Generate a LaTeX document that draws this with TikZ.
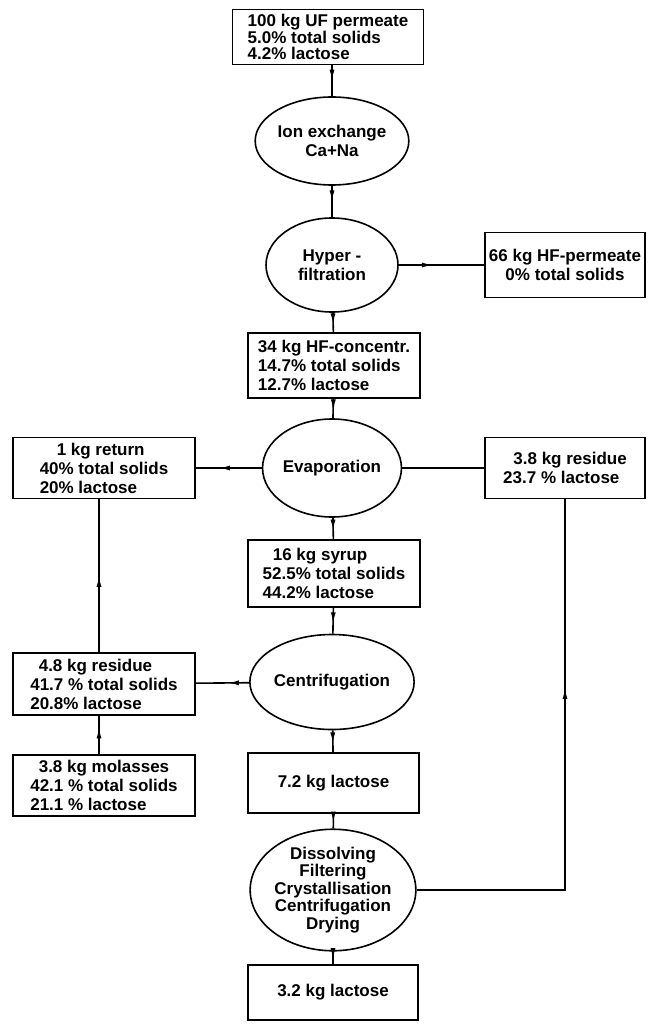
\documentclass[tikz,border=0pt]{standalone}
\usepackage{fontspec}
\setmainfont{Liberation Sans}
\usetikzlibrary{shapes.geometric,arrows.meta,decorations.markings}

\begin{document}
\begin{tikzpicture}[x=1pt, y=-1pt, line width=1.6pt,
  font=\fontsize{17}{19}\selectfont\bfseries,
  box/.style={draw, rectangle, inner sep=2pt, align=left},
  proc/.style={draw, ellipse, inner sep=0pt, align=center},
  flow/.style={decoration={markings, mark=at position #1 with {\arrow{Latex[length=11pt,width=5pt]}}}, postaction={decorate}}]
\useasboundingbox (0,0) rectangle (649,1024);
% main line
\node[box, minimum width=191pt, minimum height=55pt, font=\fontsize{17}{16.5}\selectfont\bfseries] (uf) at (328,37) {100 kg UF permeate\\5.0\% total solids\\4.2\% lactose};
\node[proc, minimum width=130pt, minimum height=88pt] (ion) at (332,141) {Ion exchange\\Ca+Na};
\node[proc, minimum width=132pt, minimum height=94pt] (hyper) at (332,265) {Hyper -\\filtration};
\node[box, align=center, minimum width=160pt, minimum height=65pt] (hfp) at (565,265) {66 kg HF-permeate\\0\% total solids};
\node[box, minimum width=172pt, minimum height=65pt] (conc) at (334,365.5) {34 kg HF-concentr.\\14.7\% total solids\\12.7\% lactose};
\node[proc, minimum width=134pt, minimum height=98pt] (evap) at (332,468) {Evaporation};
\node[box, minimum width=182pt, minimum height=61pt] (ret) at (104,468) {\hspace*{1em}1 kg return\\40\% total solids\\20\% lactose};
\node[box, minimum width=160pt, minimum height=61pt] (res) at (565,468) {\hspace*{0.6em}3.8 kg residue\\23.7 \% lactose};
\node[box, minimum width=172pt, minimum height=67pt] (syrup) at (334,573.5) {\hspace*{0.6em}16 kg syrup\\52.5\% total solids\\44.2\% lactose};
\node[proc, minimum width=130pt, minimum height=95pt] (centr) at (332,682) {Centrifugation};
\node[box, minimum width=182pt, minimum height=62pt] (res48) at (104,684) {\hspace*{0.5em}4.8 kg residue\\41.7 \% total solids\\20.8\% lactose};
\node[box, minimum width=182pt, minimum height=61pt] (mol) at (104,785.5) {\hspace*{0.5em}3.8 kg molasses\\42.1 \% total solids\\21.1 \% lactose};
\node[box, align=center, minimum width=171pt, minimum height=60pt] (lac72) at (333.5,783) {7.2 kg lactose};
\node[proc, minimum width=142pt, minimum height=100pt, font=\fontsize{17}{17.5}\selectfont\bfseries] (diss) at (333,890) {Dissolving\\Filtering\\Crystallisation\\Centrifugation\\Drying};
\node[box, align=center, minimum width=170pt, minimum height=55pt] (lac32) at (333,992.5) {3.2 kg lactose};
% connectors
\draw[flow=0.5] (uf.south -| ion.north) -- (ion);
\draw[flow=0.5] (ion) -- (hyper);
\draw[flow=0.4] (hyper) -- (hfp);
\draw[flow=0.6] (hyper) -- (conc);
\draw[flow=0.6] (conc) -- (evap);
\draw[flow=0.65] (evap) -- (ret);
\draw (res) -- (evap);
\draw[flow=0.6] (evap) -- (syrup);
\draw[flow=0.6] (syrup) -- (centr);
\draw[flow=0.4] (centr) -- (res48);
\draw[flow=0.5] ([xshift=-5pt]res48.north) -- ([xshift=-5pt]ret.south);
\draw[flow=0.7] ([xshift=-5pt]mol.north) -- ([xshift=-5pt]res48.south);
\draw[flow=0.6] (centr) -- (lac72);
\draw[flow=0.6] (lac72) -- (diss);
\draw[flow=0.6] (diss) -- (lac32);
\draw[flow=0.65] (diss.east) -| (res.south);
\end{tikzpicture}
\end{document}
